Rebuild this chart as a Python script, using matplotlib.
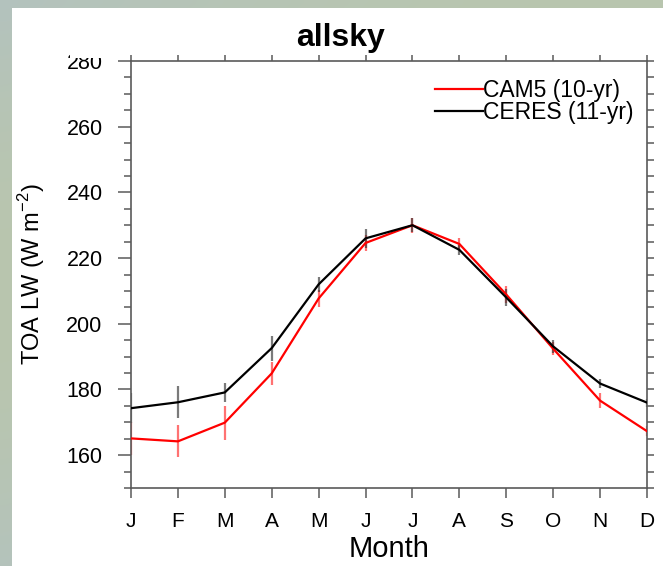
import numpy as np
import matplotlib
matplotlib.use("Agg")
import matplotlib.pyplot as plt
from matplotlib.colors import to_rgb
from matplotlib.ticker import MultipleLocator

plt.rcParams["font.family"] = ["Liberation Sans", "DejaVu Sans"]
plt.rcParams["mathtext.fontset"] = "custom"
plt.rcParams["mathtext.rm"] = "Liberation Sans"

# Monthly climatology of top-of-atmosphere outgoing longwave radiation
months = np.arange(1, 13)
month_labels = ["J", "F", "M", "A", "M", "J", "J", "A", "S", "O", "N", "D"]

cam5_mean = [165.1, 164.2, 169.9, 184.9, 207.7, 224.6, 230.0, 224.3, 208.9, 192.4, 176.6, 167.3]
cam5_std = [5.0, 4.9, 5.2, 3.6, 2.5, 2.5, 2.3, 1.8, 2.5, 2.0, 2.2, 1.5]

ceres_mean = [174.3, 176.1, 179.1, 192.6, 212.0, 226.0, 230.0, 222.5, 208.0, 193.1, 181.8, 176.0]
ceres_std = [4.5, 4.9, 3.0, 3.8, 2.2, 2.8, 2.2, 1.5, 2.5, 2.0, 1.5, 1.2]

W, H = 663, 566
fig = plt.figure(figsize=(W / 100, H / 100), dpi=100)

# Soft slide backdrop behind the white plotting panel
bg = fig.add_axes([0, 0, 1, 1], zorder=-10)
bg.set_axis_off()
yy, xx = np.mgrid[0:1:60j, 0:1:60j]
c_blue = np.array(to_rgb("#aebfcd"))
c_green = np.array(to_rgb("#b9c6ae"))
w = np.clip(0.5 + 0.5 * np.sin(3.0 * yy + 1.5 * xx), 0, 1)[..., None]
img = c_blue * (1 - w) + c_green * w
bg.imshow(img, extent=[0, 1, 0, 1], aspect="auto", interpolation="bicubic")
bg.add_patch(plt.Rectangle((12 / W, 0), 1 - 12 / W, 1 - 8 / H,
                           facecolor="white", edgecolor="none",
                           transform=bg.transAxes))
bg.set_xlim(0, 1)
bg.set_ylim(0, 1)

ax = fig.add_axes([131 / W, 1 - 488 / H, (647 - 131) / W, (488 - 61) / H])
ax.set_facecolor("white")

ax.errorbar(months, cam5_mean, yerr=cam5_std, fmt="none",
            ecolor=(1.0, 0.15, 0.15, 0.65), elinewidth=1.6, capsize=0, zorder=2)
ax.errorbar(months, ceres_mean, yerr=ceres_std, fmt="none",
            ecolor=(0.2, 0.2, 0.2, 0.65), elinewidth=1.6, capsize=0, zorder=2)
ax.plot(months, cam5_mean, color="#ff0000", lw=1.6, zorder=3, label="CAM5 (10-yr)")
ax.plot(months, ceres_mean, color="black", lw=1.6, zorder=3, label="CERES (11-yr)")

ax.set_xlim(1, 12)
ax.set_ylim(150, 280)
ax.set_xticks(months)
ax.set_xticklabels(month_labels)
ax.set_yticks(np.arange(160, 281, 20))
ax.yaxis.set_minor_locator(MultipleLocator(5))

spine_col = "#5a5a5a"
for s in ax.spines.values():
    s.set_color(spine_col)
    s.set_linewidth(1.2)

ax.tick_params(axis="both", which="both", direction="out", color=spine_col, width=1.1)
ax.tick_params(axis="y", which="major", length=9.5, labelsize=15.5, pad=11)
ax.tick_params(axis="y", which="minor", length=5)
ax.tick_params(axis="x", which="major", length=7.5, labelsize=15, pad=10)
ax.tick_params(axis="x", which="minor", bottom=False)

# Shorter outward ticks along the top and right edges
top = ax.secondary_xaxis("top")
top.set_xticks(months)
top.tick_params(direction="out", length=4, width=1.1, color=spine_col, labeltop=False)
top.spines["top"].set_visible(False)
right = ax.secondary_yaxis("right")
right.set_yticks(np.arange(160, 281, 20))
right.yaxis.set_minor_locator(MultipleLocator(5))
right.tick_params(which="both", direction="out", length=5, width=1.1,
                  color=spine_col, labelright=False)
right.spines["right"].set_visible(False)

ax.set_xlabel("Month", fontsize=21, labelpad=3)
ax.set_ylabel("TOA LW (W m$^{\\mathregular{-2}}$)", fontsize=17, labelpad=14)

leg = ax.legend(loc="upper right", bbox_to_anchor=(1.0, 0.99), frameon=False,
                fontsize=16.5, handlelength=2.1, handletextpad=0.0,
                labelspacing=-0.05, borderaxespad=0.2)

fig.text(341 / W, 1 - 46 / H, "allsky", ha="center", va="baseline",
         fontsize=23, fontweight="bold")

# The panel header strip overlaps the topmost tick label
fig.patches.append(plt.Rectangle((70 / W, 1 - 58 / H), 55 / W, 16 / H,
                                 facecolor="white", edgecolor="none",
                                 transform=fig.transFigure, zorder=5))

fig.savefig("out.png", dpi=100)
